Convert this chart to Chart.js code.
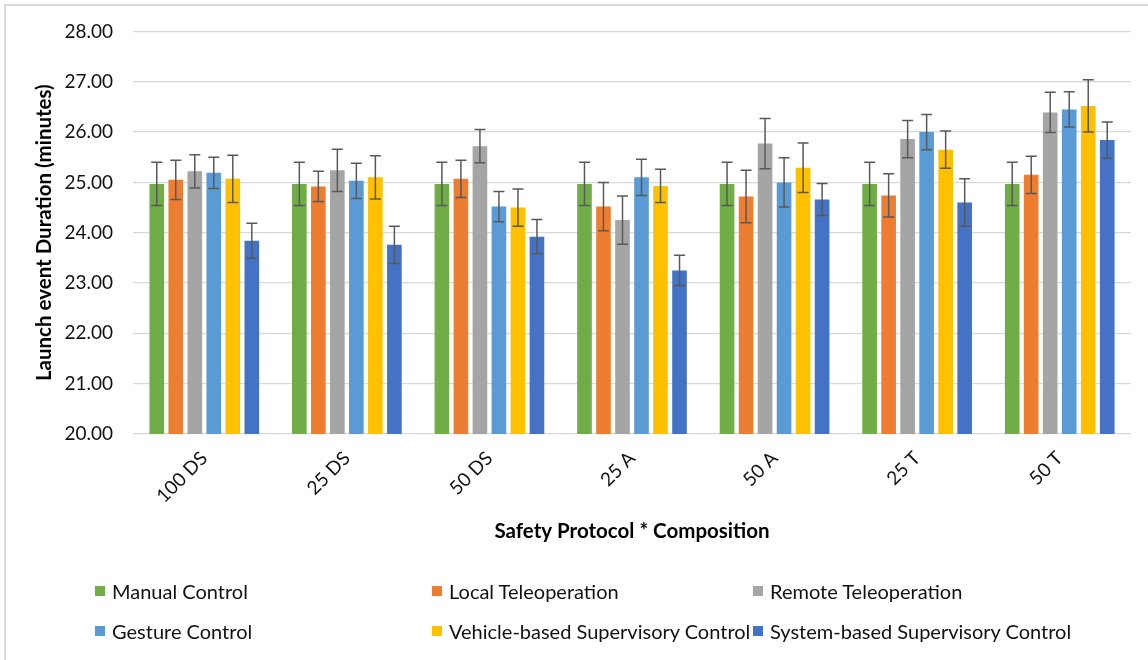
<!DOCTYPE html>
<html>
<head>
<meta charset="utf-8">
<script src="https://cdn.jsdelivr.net/npm/chart.js@4.4.0/dist/chart.umd.min.js"></script>
<style>
  html, body { margin: 0; padding: 0; background: #fff; }
  #wrap { position: relative; width: 1148px; height: 660px; overflow: hidden; font-family: Lato, sans-serif; }
  #frame { position: absolute; left: 4px; top: 4px; right: -10px; bottom: -10px; border: 2px solid #dadada; }
  canvas { position: absolute; left: 0; top: 0; }
  .item { position: absolute; display: flex; align-items: center; font-size: 20px; color: #111; white-space: nowrap; height: 26px; }
  .item span.box { display: inline-block; width: 10px; height: 10px; margin-right: 7px; }
</style>
</head>
<body>
<div id="wrap">
  <div id="frame"></div>
  <canvas id="chart" width="1148" height="660"></canvas>
  <div id="legend"></div>
</div>
<script>
const categories = ['100 DS', '25 DS', '50 DS', '25 A', '50 A', '25 T', '50 T']
const seriesNames = ['Manual Control', 'Local Teleoperation', 'Remote Teleoperation',
  'Gesture Control', 'Vehicle-based Supervisory Control', 'System-based Supervisory Control']
const seriesColors = ['#70AD47', '#ED7D31', '#A5A5A5', '#5B9BD5', '#FFC000', '#4472C4']

// mean durations (minutes)
const manualControl = [24.97, 24.97, 24.97, 24.97, 24.97, 24.97, 24.97]
const localTeleop = [25.05, 24.92, 25.07, 24.52, 24.72, 24.74, 25.15]
const remoteTeleop = [25.22, 25.24, 25.72, 24.25, 25.77, 25.86, 26.39]
const gestureControl = [25.19, 25.03, 24.52, 25.10, 25.00, 26.00, 26.45]
const vehicleSupervisory = [25.07, 25.10, 24.50, 24.93, 25.29, 25.65, 26.52]
const systemSupervisory = [23.84, 23.76, 23.92, 23.25, 24.66, 24.60, 25.84]

// error bar half-lengths
const manualErr = [0.43, 0.43, 0.43, 0.43, 0.43, 0.43, 0.43]
const localErr = [0.39, 0.30, 0.37, 0.48, 0.52, 0.43, 0.37]
const remoteErr = [0.33, 0.42, 0.33, 0.48, 0.50, 0.37, 0.40]
const gestureErr = [0.31, 0.35, 0.30, 0.36, 0.49, 0.35, 0.35]
const vehicleErr = [0.47, 0.43, 0.37, 0.33, 0.49, 0.37, 0.52]
const systemErr = [0.35, 0.37, 0.34, 0.30, 0.32, 0.47, 0.36]

const yTicks = [20, 21, 22, 23, 24, 25, 26, 27, 28]

const values = [manualControl, localTeleop, remoteTeleop, gestureControl, vehicleSupervisory, systemSupervisory]
const errors = [manualErr, localErr, remoteErr, gestureErr, vehicleErr, systemErr]

const FONT = 'Lato'
const TEXT = '#111'

const errorBars = {
  id: 'errorBars',
  afterDatasetsDraw(chart) {
    const { ctx } = chart
    const y = chart.scales.y
    ctx.save()
    ctx.strokeStyle = '#595959'
    ctx.lineWidth = 1.5
    chart.data.datasets.forEach((ds, i) => {
      const meta = chart.getDatasetMeta(i)
      meta.data.forEach((bar, j) => {
        const v = ds.data[j]
        const e = ds.errors[j]
        const top = y.getPixelForValue(v + e)
        const bot = y.getPixelForValue(v - e)
        const cap = 5.5
        ctx.beginPath()
        ctx.moveTo(bar.x, top)
        ctx.lineTo(bar.x, bot)
        ctx.moveTo(bar.x - cap, top)
        ctx.lineTo(bar.x + cap, top)
        ctx.moveTo(bar.x - cap, bot)
        ctx.lineTo(bar.x + cap, bot)
        ctx.stroke()
      })
    })
    ctx.restore()
  }
}

const datasets = seriesNames.map((name, i) => ({
  label: name,
  data: values[i],
  errors: errors[i],
  backgroundColor: seriesColors[i],
  categoryPercentage: 0.8,
  barPercentage: 0.77,
}))

new Chart(document.getElementById('chart'), {
  type: 'bar',
  data: { labels: categories, datasets },
  plugins: [errorBars],
  options: {
    responsive: false,
    animation: false,
    layout: { padding: { left: 4, right: 17, top: 29, bottom: 115 } },
    plugins: { legend: { display: false }, tooltip: { enabled: false } },
    scales: {
      x: {
        grid: { display: false },
        border: { display: false },
        ticks: { autoSkip: false, minRotation: 45, maxRotation: 45, padding: 5, color: TEXT, font: { family: FONT, size: 19 } },
        title: { display: true, text: 'Safety Protocol * Composition', color: '#000', padding: { top: 0, bottom: 1 }, font: { family: FONT, size: 20.5, weight: 'bold' } },
        afterFit: s => { s.height = 111 },
      },
      y: {
        min: yTicks[0],
        max: yTicks[yTicks.length - 1],
        afterBuildTicks: s => { s.ticks = yTicks.map(v => ({ value: v })) },
        grid: { color: '#d9d9d9', lineWidth: 1.3, drawTicks: false },
        border: { display: false },
        ticks: { padding: 20, color: TEXT, font: { family: FONT, size: 19 }, callback: v => Number(v).toFixed(2) },
        title: { display: true, text: 'Launch event Duration (minutes)', color: '#000', padding: { top: 28, bottom: 0 }, font: { family: FONT, size: 20.5, weight: 'bold' } },
        afterFit: s => { s.width = 129 },
      },
    },
  },
})

// legend laid out like the original: 3 columns x 2 rows
const legendCols = [95, 432, 753]
const legendRows = [591, 631]
const legendEl = document.getElementById('legend')
seriesNames.forEach((name, i) => {
  const d = document.createElement('div')
  d.className = 'item'
  d.style.left = legendCols[i % 3] + 'px'
  d.style.top = (legendRows[Math.floor(i / 3)] - 13) + 'px'
  d.innerHTML = '<span class="box" style="background:' + seriesColors[i] + '"></span>' + name
  legendEl.appendChild(d)
})
</script>
</body>
</html>
